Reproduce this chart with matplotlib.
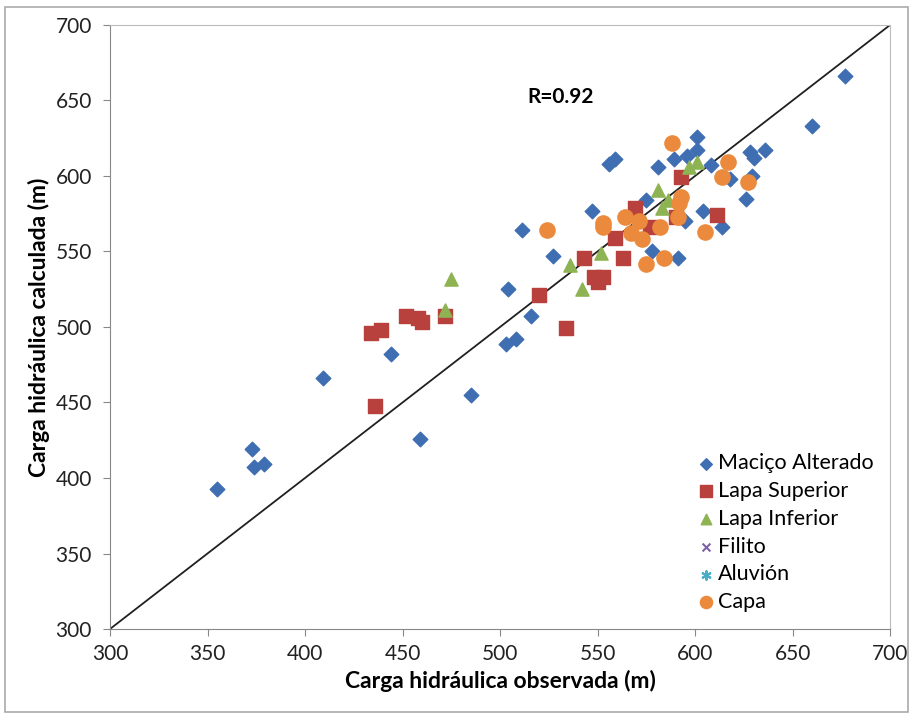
import matplotlib.pyplot as plt
from matplotlib.patches import Rectangle

# Observed vs calculated hydraulic head, per geological unit
macico_obs = [355, 373, 374, 379, 409, 444, 459, 485, 503, 508, 504, 511, 516, 527, 547,
              556, 559, 575, 581, 589, 596, 601, 601, 608, 578, 591, 595, 604, 614, 618,
              626, 628, 630, 629, 636, 660, 677]
macico_calc = [393, 419, 407, 409, 466, 482, 426, 455, 489, 492, 525, 564, 507, 547, 577,
               608, 611, 584, 606, 611, 613, 617, 626, 607, 550, 546, 570, 577, 566, 598,
               585, 616, 612, 600, 617, 633, 666]

sup_obs = [434, 439, 436, 452, 460, 458, 472, 520, 534, 543, 548, 553, 550, 559, 563,
           569, 577, 590, 593, 611]
sup_calc = [496, 498, 448, 507, 503, 506, 507, 521, 499, 546, 533, 533, 530, 559, 546,
            579, 566, 573, 599, 574]

inf_obs = [472, 475, 536, 542, 552, 581, 583, 586, 597, 601]
inf_calc = [511, 532, 541, 525, 549, 591, 579, 584, 606, 609]

capa_obs = [524, 553, 553, 564, 567, 573, 575, 584, 582, 588, 593, 592, 591, 605, 614,
            617, 627, 571]
capa_calc = [564, 569, 566, 573, 562, 558, 542, 546, 566, 622, 586, 582, 573, 563, 599,
             609, 596, 570]

filito_obs, filito_calc = [], []
aluvion_obs, aluvion_calc = [], []

fig = plt.figure(figsize=(9.12, 7.13), dpi=100)
plt.rcParams['font.family'] = ['Lato', 'DejaVu Sans']
ax = fig.add_axes([0.1206, 0.1178, 0.8554, 0.8472])

ax.plot([300, 700], [300, 700], color='#202020', lw=1.3, zorder=1)

ax.scatter(macico_obs, macico_calc, marker='D', s=55, color='#3F6EB3', label='Maciço Alterado', zorder=3)
ax.scatter(sup_obs, sup_calc, marker='s', s=110, color='#B8403D', label='Lapa Superior', zorder=3)
ax.scatter(inf_obs, inf_calc, marker='^', s=90, color='#8DB352', label='Lapa Inferior', zorder=3)
ax.scatter(filito_obs, filito_calc, marker='x', s=50, color='#7D62A8', label='Filito', zorder=3)
ax.scatter(aluvion_obs, aluvion_calc, marker=(6, 2, 0), s=60, color='#4BACC6', label='Aluvión', zorder=3)
ax.scatter(capa_obs, capa_calc, marker='o', s=120, color='#EB8A3C', label='Capa', zorder=3)

ax.set_xlim(300, 700)
ax.set_ylim(300, 700)
ax.set_xticks(range(300, 701, 50))
ax.set_yticks(range(300, 701, 50))
ax.tick_params(labelsize=15, length=5, color='#888888', colors='#222222')
ax.tick_params(axis='x', pad=6)
ax.tick_params(axis='y', pad=8)
for side in ['left', 'bottom']:
    ax.spines[side].set_color('#888888')
for side in ['top', 'right']:
    ax.spines[side].set_color('#BBBBBB')

ax.set_xlabel('Carga hidráulica observada (m)', fontsize=16.5, fontweight='bold', labelpad=4)
ax.set_ylabel('Carga hidráulica calculada (m)', fontsize=16.5, fontweight='bold', labelpad=4)

ax.text(514, 652, 'R=0.92', fontsize=15, fontweight='bold', va='center', ha='left')

ax.legend(loc='upper left', bbox_to_anchor=(0.745, 0.298), frameon=False, fontsize=15.5,
          handletextpad=0.05, labelspacing=0.36, borderaxespad=0.0, borderpad=0.2,
          scatterpoints=1, markerscale=0.8, handlelength=1.0)

fig.patches.append(Rectangle((0.006, 0.002), 0.99, 0.988, transform=fig.transFigure,
                             fill=False, edgecolor='#AAAAAA', lw=1.2))

fig.savefig('out.png', dpi=100)
